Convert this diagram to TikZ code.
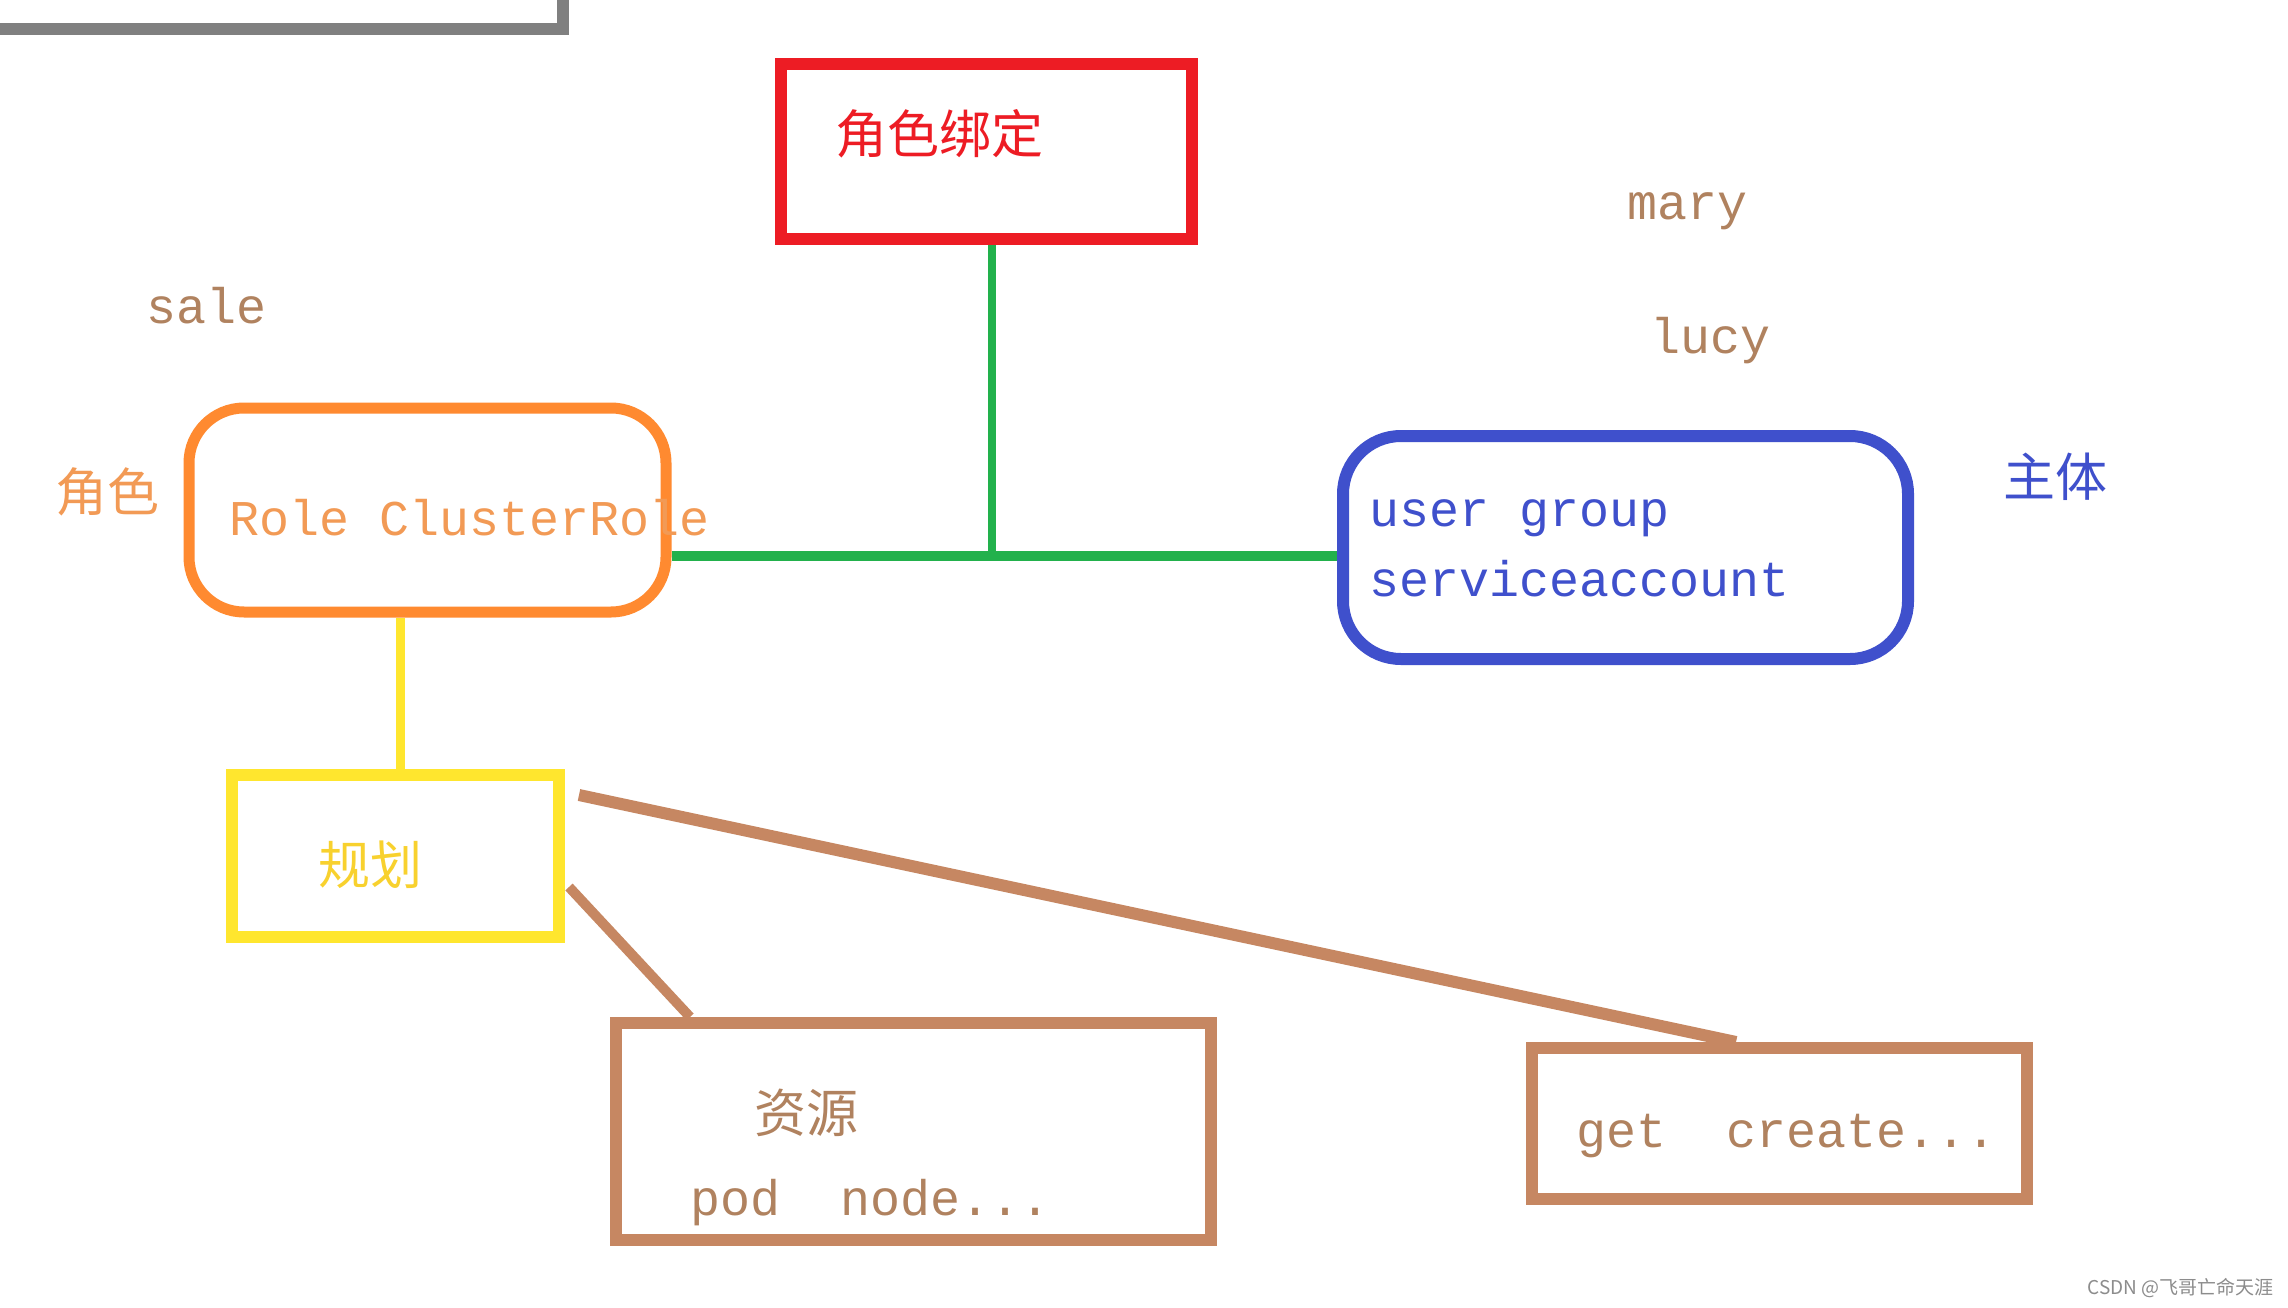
\documentclass[tikz,border=0pt]{standalone}
\usepackage{fontspec}
\newfontfamily\mono{Liberation Mono}
\newfontfamily\cjk{Noto Sans CJK SC}
\definecolor{pred}{HTML}{ED1C24}
\definecolor{pgreen}{HTML}{22B14C}
\definecolor{porange}{HTML}{FF8A30}
\definecolor{torange}{HTML}{F29A55}
\definecolor{pblue}{HTML}{3F50CC}
\definecolor{pyellow}{HTML}{FFE62E}
\definecolor{tyellow}{HTML}{F8D12E}
\definecolor{pbrown}{HTML}{C68762}
\definecolor{tbrown}{HTML}{B0825F}
\definecolor{pgray}{HTML}{808080}
\tikzset{
  box/.style={draw, line width=12pt, inner sep=0pt, minimum width=#1},
  mtext/.style={font=\mono\fontsize{50}{60}\selectfont, anchor=west, inner sep=0pt},
  ctext/.style={font=\cjk\fontsize{52}{60}\selectfont, anchor=west, inner sep=0pt},
}
\begin{document}
\begin{tikzpicture}[x=1pt,y=-1pt]
\clip (0,0) rectangle (2288,1308);
\fill[white] (0,0) rectangle (2288,1308);
% gray partial box
\draw[pgray, line width=12pt] (-30,-60) rectangle (563,29);
% boxes
\node[box=411pt, minimum height=175pt, draw=pred] (bind) at (986.5,151.5) {};
\node[box=477pt, minimum height=204pt, draw=porange, rounded corners=55pt, line width=11pt] (role) at (427.5,510) {};
\node[box=565pt, minimum height=223pt, draw=pblue, rounded corners=58pt] (subj) at (1625.5,547.5) {};
\node[box=327pt, minimum height=162pt, draw=pyellow] (plan) at (395.5,856) {};
\node[box=595pt, minimum height=217pt, draw=pbrown] (res) at (913.5,1131.5) {};
\node[box=495pt, minimum height=151pt, draw=pbrown] (verb) at (1779.5,1123.5) {};
% texts
\node[ctext, text=pred] (tbind) at (835,134) {角色绑定};
\node[mtext, text=tbrown] (tsale) at (146,306) {sale};
\node[ctext, text=torange] (trole) at (55,492) {角色};
\node[mtext, text=torange] (trolebox) at (229,518) {Role ClusterRole};
\node[mtext, text=tbrown] (tmary) at (1627,211) {mary};
\node[mtext, text=tbrown] (tlucy) at (1650,341) {lucy};
\node[mtext, text=pblue] (tug) at (1369,518) {user group};
\node[mtext, text=pblue] (tsa) at (1369,579) {serviceaccount};
\node[ctext, text=pblue] (tsubj) at (2003,477) {主体};
\node[ctext, text=tyellow] (tplan) at (318,865) {规划};
\node[ctext, text=tbrown] (tres) at (754,1113) {资源};
\node[mtext, text=tbrown] (tpod) at (690,1203) {pod~~node...};
\node[mtext, text=tbrown] (tget) at (1576,1136) {get~~create...};
\node[font=\cjk\fontsize{19}{21}\selectfont, text=black!45, anchor=east, inner sep=0pt] (wm) at (2274,1288) {CSDN @飞哥亡命天涯};
% connectors
\coordinate (j) at (992,556);
\draw[pgreen, line width=10pt] (role.east |- j) -- (subj.west |- j);
\draw[pgreen, line width=8pt] (bind.south -| j) -- (j);
\draw[pyellow, line width=9pt] (role.south -| 400,0) -- (plan.north -| 400,0);
\coordinate (b1) at (579,795);
\coordinate (b2) at (569,887);
\draw[pbrown, line width=12pt] (b1) -- (verb.north -| 1736,0);
\draw[pbrown, line width=10pt] (b2) -- (res.north -| 690,0);
\end{tikzpicture}
\end{document}
